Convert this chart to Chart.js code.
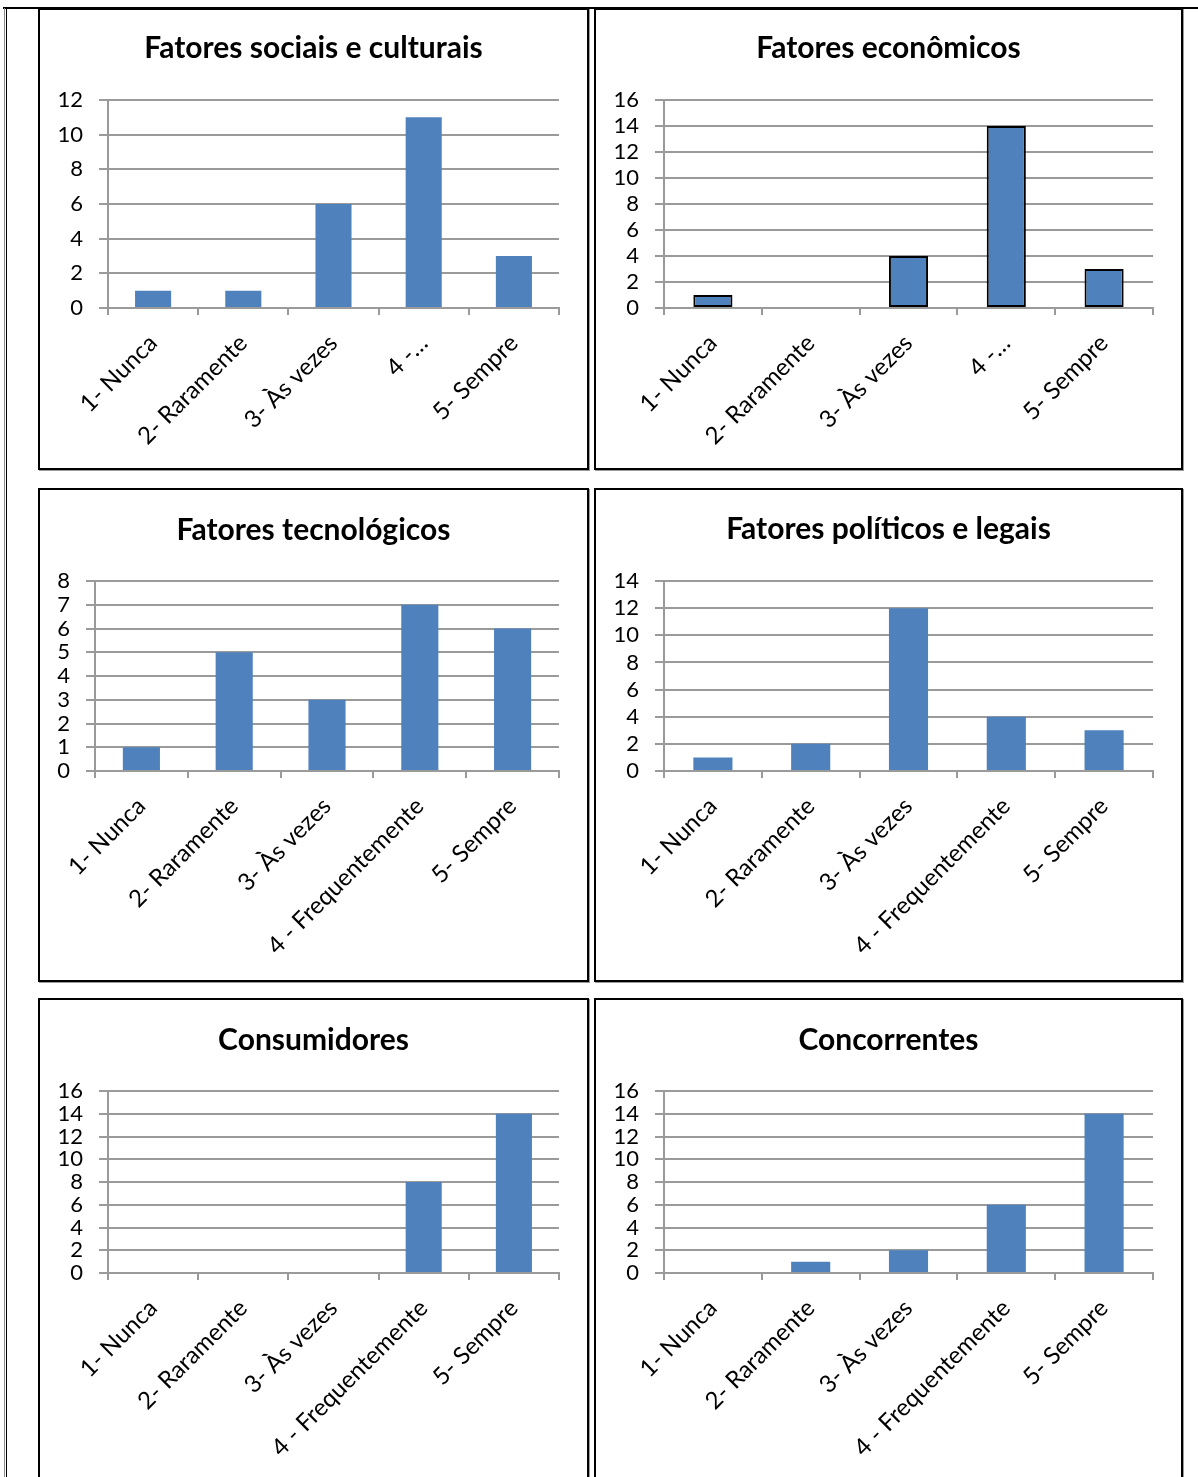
<!DOCTYPE html>
<html>
<head>
<meta charset="utf-8">
<script src="https://cdn.jsdelivr.net/npm/chart.js@4.4.1/dist/chart.umd.min.js"></script>
<style>
  html, body { margin: 0; padding: 0; background: #fff; }
  body { position: relative; width: 1198px; height: 1477px; overflow: hidden; }
  .frame { position: absolute; box-sizing: border-box; border: 2px solid #000; box-shadow: 1px 1px 0 #9a9a9a; pointer-events: none; }
  .rule { position: absolute; background: #000; }
  canvas { position: absolute; }
</style>
</head>
<body>
<div class="rule" style="left:3px;top:7px;width:1195px;height:2px;"></div>
<div class="rule" style="left:4px;top:8px;width:1px;height:1469px;background:#8a8a8a;"></div>
<div class="rule" style="left:6px;top:8px;width:1px;height:1469px;"></div>
<script>
// Answer scale shared by every chart
const categorias = ['1- Nunca', '2- Raramente', '3- Às vezes', '4 - Frequentemente', '5- Sempre'];
const categoriasCurtas = ['1- Nunca', '2- Raramente', '3- Às vezes', '4 -…', '5- Sempre'];

// Titles
const titulos = ['Fatores sociais e culturais', 'Fatores econômicos', 'Fatores tecnológicos',
                 'Fatores políticos e legais', 'Consumidores', 'Concorrentes'];

// Number of answers per category
const sociaisCulturais = [1, 1, 6, 11, 3];
const economicos       = [1, 0, 4, 14, 3];
const tecnologicos     = [1, 5, 3, 7, 6];
const politicosLegais  = [1, 2, 12, 4, 3];
const consumidores     = [0, 0, 0, 8, 14];
const concorrentes     = [0, 1, 2, 6, 14];

// Value axis range of each chart
const eixoMax   = [12, 16, 8, 14, 16, 16];
const eixoPasso = [2, 2, 1, 2, 2, 2];

const series = [sociaisCulturais, economicos, tecnologicos, politicosLegais, consumidores, concorrentes];
const rotulos = [categoriasCurtas, categoriasCurtas, categorias, categorias, categorias, categorias];

// Page geometry of each frame and its plot area
const layoutPaineis = [
  { box: [38, 8, 551, 462],    area: [108, 559, 100, 308],   titleY: 48,   outline: false },
  { box: [594, 8, 589, 462],   area: [664, 1153, 100, 308],  titleY: 48,   outline: true },
  { box: [38, 488, 551, 494],  area: [95, 559, 581, 771],    titleY: 530,  outline: false },
  { box: [594, 488, 589, 494], area: [664, 1153, 581, 771],  titleY: 529,  outline: false },
  { box: [38, 998, 551, 490],  area: [108, 559, 1091, 1273], titleY: 1040, outline: false },
  { box: [594, 998, 589, 490], area: [664, 1153, 1091, 1273],titleY: 1040, outline: false }
];

const FONTE = 'Lato, "Open Sans", sans-serif';
const GRADE = '#9a9a9a';
const AZUL = '#4F81BD';
const TITULO_PX = 30, TITULO_LH = 1.2;

layoutPaineis.forEach((p, i) => {
  const [bx, by, bw, bh] = p.box;
  const [al, ar, at, ab] = p.area;

  const canvas = document.createElement('canvas');
  canvas.width = bw; canvas.height = bh;
  canvas.style.left = bx + 'px'; canvas.style.top = by + 'px';
  canvas.style.width = bw + 'px'; canvas.style.height = bh + 'px';
  document.body.appendChild(canvas);

  const frame = document.createElement('div');
  frame.className = 'frame';
  frame.style.left = bx + 'px'; frame.style.top = by + 'px';
  frame.style.width = bw + 'px'; frame.style.height = bh + 'px';
  document.body.appendChild(frame);

  const titleH = TITULO_PX * TITULO_LH;
  const padTop = (p.titleY - by) - titleH / 2;
  const padBottom = (at - by) - padTop - titleH;

  new Chart(canvas, {
    type: 'bar',
    data: {
      labels: rotulos[i],
      datasets: [{
        data: series[i],
        backgroundColor: AZUL,
        borderColor: '#000',
        borderWidth: p.outline ? (c => (c.raw > 0 ? 2 : 0)) : 0,
        borderSkipped: false,
        categoryPercentage: 1,
        barPercentage: 0.4
      }]
    },
    options: {
      responsive: false,
      animation: false,
      devicePixelRatio: 1,
      layout: { padding: 0 },
      plugins: {
        legend: { display: false },
        tooltip: { enabled: false },
        title: {
          display: true,
          text: titulos[i],
          color: '#000',
          font: { family: FONTE, size: TITULO_PX, weight: 'bold', lineHeight: TITULO_LH },
          padding: { top: padTop, bottom: padBottom }
        }
      },
      scales: {
        x: {
          offset: true,
          grid: { display: true, drawOnChartArea: false, offset: true, tickLength: 7, color: GRADE, lineWidth: 2 },
          border: { display: true, color: GRADE, width: 2 },
          ticks: {
            autoSkip: false, minRotation: 45, maxRotation: 45, padding: 14,
            color: '#000', font: { family: FONTE, size: 24 }
          },
          afterFit: s => { s.height = bh - (ab - by); }
        },
        y: {
          min: 0, max: eixoMax[i],
          grid: { color: GRADE, lineWidth: 2, tickLength: 9 },
          border: { display: true, color: GRADE, width: 2 },
          ticks: {
            stepSize: eixoPasso[i], autoSkip: false, padding: 16,
            color: '#000', font: { family: FONTE, size: 22 }
          },
          afterFit: s => { s.width = al - bx; }
        },
        // empty right-hand margin so the title stays centred on the frame
        margem: {
          axis: 'y', position: 'right', display: true,
          grid: { display: false }, border: { display: false }, ticks: { display: false },
          afterFit: s => { s.width = bx + bw - ar; }
        }
      }
    }
  });
});
</script>
</body>
</html>
